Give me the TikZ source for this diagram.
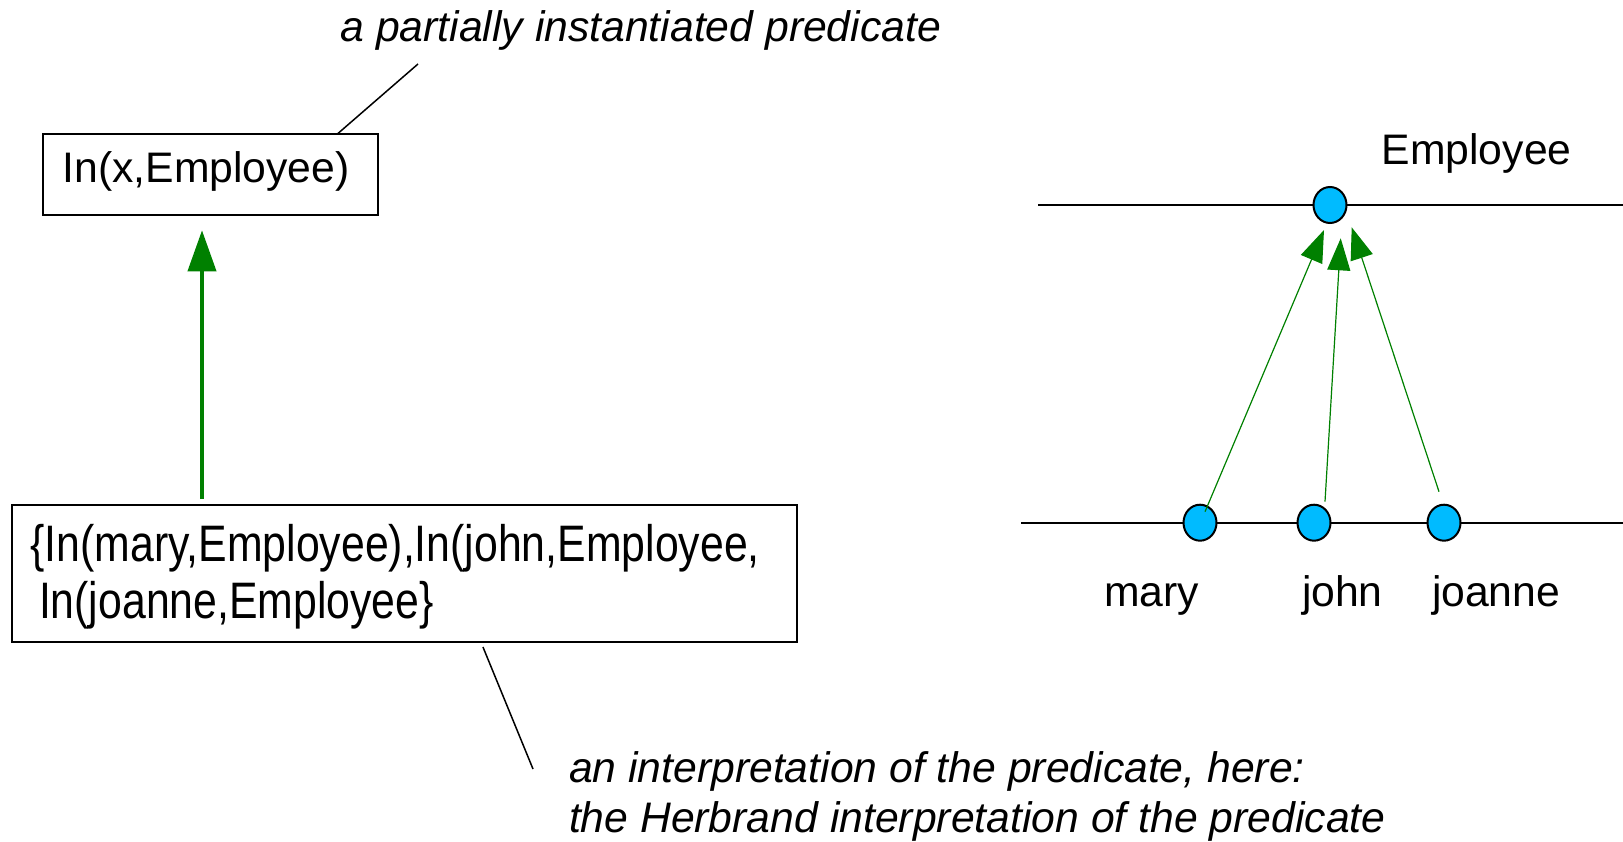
\documentclass[tikz,border=0pt]{standalone}
\usepackage{fontspec}
\setmainfont{Liberation Sans}
\newfontfamily\tallsans[FakeStretch=0.834]{Liberation Sans}
\usetikzlibrary{arrows.meta,shapes.geometric}
\definecolor{arrowgreen}{RGB}{0,128,0}
\definecolor{dotblue}{RGB}{0,187,255}

\begin{document}
\begin{tikzpicture}[x=1pt,y=-1pt,
  every node/.style={inner sep=0pt, outer sep=0pt},
  frame/.style={draw, line width=2pt, rectangle},
  plain/.style={font=\fontsize{42.7}{50}\selectfont},
  note/.style={font=\fontsize{42.7}{50}\selectfont\itshape},
  tall/.style={font=\fontsize{51.3}{60}\tallsans},
  element/.style={draw, line width=2pt, fill=dotblue, ellipse,
                  minimum width=33pt, minimum height=36pt},
  leader/.style={line width=1.5pt},
  axis/.style={line width=2.2pt},
  lift/.style={draw=arrowgreen, line width=4pt,
               -{Triangle[length=41pt,width=28pt]}},
  maps/.style={draw=arrowgreen, line width=1.2pt,
               -{Triangle[length=32pt,width=23pt]}},
]
\useasboundingbox (0,0) rectangle (1623,842);

% ---------- left: predicate and its interpretation ----------
\node[frame, anchor=north west, minimum width=334.4pt, minimum height=80.7pt]
  (pred) at (43.3,134.3) {};
\node[plain, anchor=base west] (predtext) at (62.5,182.7) {In(x,Employee)};

\node[frame, anchor=north west, minimum width=785.3pt, minimum height=137pt]
  (interp) at (11.7,505) {};
\node[tall, anchor=base west] (interpA) at (30.6,561.7)
  {\{In(mary,Employee),In(john,Employee,};
\node[tall, anchor=base west] (interpB) at (39,618)
  {In(joanne,Employee\}};

\coordinate (liftx) at (202,0);
\draw[lift, shorten <=6pt, shorten >=15.3pt]
  (liftx |- interp.north) -- (liftx |- pred.south);

% annotations
\node[note, anchor=base west] (topnote) at (340.5,41.7)
  {a partially instantiated predicate};
\draw[leader] ([xshift=77.5pt,yshift=-22.3pt]topnote.base west)
  -- ([xshift=-40.7pt]pred.north east);

\node[note, anchor=base west] (lowernoteA) at (569,782)
  {an interpretation of the predicate, here:};
\node[note, anchor=base west] (lowernoteB) at (569,832)
  {the Herbrand interpretation of the predicate};
\draw[leader] ([xshift=78.6pt,yshift=-5pt]interp.south)
  -- ([xshift=-36pt,yshift=13pt]lowernoteA.base west);

% ---------- right: the set and its members ----------
\coordinate (upperL) at (1038,205);
\coordinate (upperR) at (1623,205);
\coordinate (lowerL) at (1021,522.7);
\coordinate (lowerR) at (1623,522.7);
\draw[axis] (upperL) -- (upperR);
\draw[axis] (lowerL) -- (lowerR);

\node[element] (emp) at (1330,205) {};
\node[element] (mary) at (1200,522.7) {};
\node[element] (john) at (1314,522.7) {};
\node[element] (joanne) at (1444,522.7) {};

\node[plain, anchor=base west] (emplabel) at (1381.7,165) {Employee};
\node[plain, anchor=base west] (marylabel) at (1104,606.7) {mary};
\node[plain, anchor=base west] (johnlabel) at (1302,606.7) {john};
\node[plain, anchor=base west] (joannelabel) at (1432,606.7) {joanne};

\draw[maps] ([xshift=5pt,yshift=11pt]mary.center)
  -- ([xshift=-6pt,yshift=-25pt]emp.center);
\draw[maps] ([xshift=11pt,yshift=21pt]john.center)
  -- ([xshift=10.7pt,yshift=-33.3pt]emp.center);
\draw[maps] ([xshift=-5pt,yshift=31pt]joanne.center)
  -- ([xshift=21.7pt,yshift=-22.3pt]emp.center);
\end{tikzpicture}
\end{document}
